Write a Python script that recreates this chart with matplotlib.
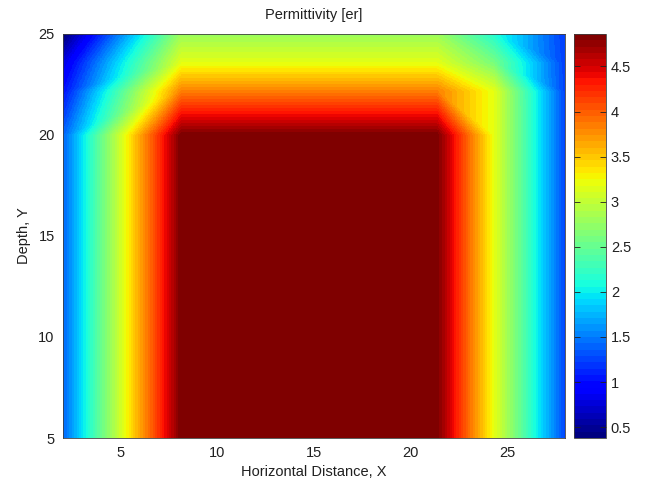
import numpy as np
import matplotlib
matplotlib.use("Agg")
import matplotlib.pyplot as plt
import matplotlib.tri as mtri

# ---- data: node grid of permittivity values ----
x_nodes = [2.0, 8.1, 21.4, 24.35, 28.0]
y_nodes = [5.0, 20.0, 22.2, 23.6, 25.0]
row_y5 = [1.40, 4.86, 4.86, 3.18, 1.28]
row_y20 = [1.40, 4.86, 4.86, 3.18, 1.28]
row_y22 = [1.02, 3.83, 3.83, 3.18, 1.26]
row_y23 = [0.80, 3.18, 3.18, 2.60, 1.24]
row_y25 = [0.38, 2.80, 2.80, 2.15, 1.22]
cbar_ticks = [0.5, 1, 1.5, 2, 2.5, 3, 3.5, 4, 4.5]
x_ticks = [5, 10, 15, 20, 25]
y_ticks = [5, 10, 15, 20, 25]

plt.rcParams['font.family'] = ['Liberation Sans', 'DejaVu Sans']
FS = 10.5
TXT = '#202020'

Z = np.array([row_y5, row_y20, row_y22, row_y23, row_y25])
nx, ny = len(x_nodes), len(y_nodes)
XX, YY = np.meshgrid(x_nodes, y_nodes)
px, py, pz = XX.ravel(), YY.ravel(), Z.ravel()

tris = []
for j in range(ny - 1):
    for i in range(nx - 1):
        a = j * nx + i
        b = a + 1
        c = a + nx
        d = c + 1
        if 0.5 * (x_nodes[i] + x_nodes[i + 1]) < 15:
            tris += [[a, b, d], [a, d, c]]
        else:
            tris += [[a, b, c], [b, d, c]]
tri = mtri.Triangulation(px, py, np.array(tris))
interp = mtri.LinearTriInterpolator(tri, pz)

xf = np.linspace(x_nodes[0], x_nodes[-1], 700)
yf = np.linspace(y_nodes[0], y_nodes[-1], 600)
XF, YF = np.meshgrid(xf, yf)
ZF = interp(XF, YF)

vmin, vmax = pz.min(), pz.max()
cmap = plt.get_cmap('jet', 64)

fig = plt.figure(figsize=(6.47, 4.87), dpi=100)
ax = fig.add_axes([63 / 647, 1 - 438 / 487, (565 - 63) / 647, (438 - 34) / 487])
im = ax.imshow(ZF, origin='lower', extent=[xf[0], xf[-1], yf[0], yf[-1]],
               cmap=cmap, vmin=vmin, vmax=vmax, aspect='auto',
               interpolation='nearest')
ax.set_xlim(x_nodes[0], x_nodes[-1])
ax.set_ylim(y_nodes[0], y_nodes[-1])
ax.set_xticks(x_ticks)
ax.set_yticks(y_ticks)
ax.tick_params(length=0, labelsize=FS, colors=TXT, pad=6)
for s in ax.spines.values():
    s.set_linewidth(0.6)
    s.set_color('#404040')
ax.set_xlabel('Horizontal Distance, X', fontsize=FS, color=TXT, labelpad=3)
ax.set_ylabel('Depth, Y', fontsize=FS, color=TXT, labelpad=5)
ax.set_title('Permittivity [er]', fontsize=FS, color=TXT, pad=11)

cax = fig.add_axes([574 / 647, 1 - 438 / 487, 32 / 647, (438 - 34) / 487])
cb = fig.colorbar(im, cax=cax, ticks=cbar_ticks)
cb.ax.set_yticklabels(['%g' % t for t in cbar_ticks])
cb.ax.tick_params(direction='in', length=4, labelsize=FS, colors=TXT,
                  left=True, right=True, width=0.6)
cb.outline.set_linewidth(0.6)
cb.outline.set_edgecolor('#404040')

fig.savefig('out.png', dpi=100)
